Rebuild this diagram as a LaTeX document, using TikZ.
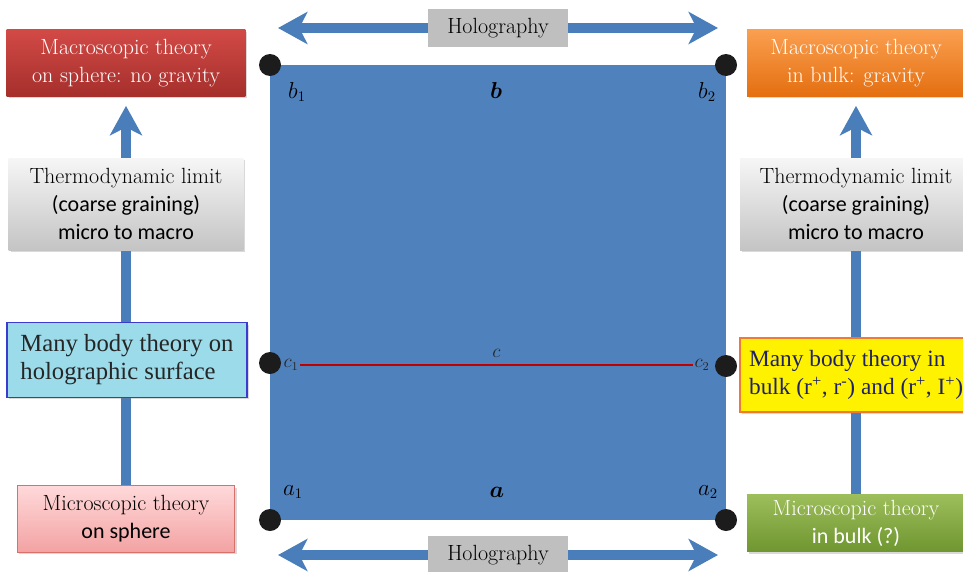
\documentclass[tikz,border=0pt]{standalone}
\usepackage{amsmath,amssymb}
\usepackage{fontspec}
\newfontfamily\calibrifont{Carlito}
\newfontfamily\timesfont{Liberation Serif}
\usepackage{tikz}
\usetikzlibrary{arrows.meta,positioning,shadows,backgrounds}
\definecolor{bulkBlue}{HTML}{4F81BD}
\definecolor{arrowBlue}{HTML}{4A7EBB}
\definecolor{dotBlack}{HTML}{1C1C1C}
\definecolor{redTop}{HTML}{D24A46}
\definecolor{redBot}{HTML}{A52F2C}
\definecolor{orangeTop}{HTML}{FA9F50}
\definecolor{orangeBot}{HTML}{E46F10}
\definecolor{grayTop}{HTML}{F6F6F6}
\definecolor{grayBot}{HTML}{C4C4C4}
\definecolor{cyanFill}{HTML}{9BDBEA}
\definecolor{cyanLine}{HTML}{3B3BCF}
\definecolor{yellowLine}{HTML}{F07A32}
\definecolor{navyText}{HTML}{1F2266}
\definecolor{pinkTop}{HTML}{FFD9DA}
\definecolor{pinkBot}{HTML}{F3A2A2}
\definecolor{pinkLine}{HTML}{D8706C}
\definecolor{greenTop}{HTML}{9DBE5B}
\definecolor{greenBot}{HTML}{6F9630}
\definecolor{holoGray}{HTML}{BFBFBF}
\definecolor{cRed}{HTML}{C00000}
\newcommand{\boxfont}{\fontsize{16.5}{21}\selectfont}

\begin{document}
\begin{tikzpicture}[x=0.75pt, y=-0.75pt,
    box/.style={rectangle, align=center, inner sep=2pt, font=\boxfont, drop shadow={opacity=0.3, shadow xshift=1.5pt, shadow yshift=-1.5pt}},
    macSbox/.style={box, top color=redTop, bottom color=redBot, text=white, minimum width=179pt, minimum height=50pt},
    macBbox/.style={box, top color=orangeTop, bottom color=orangeBot, text=white, minimum width=163.5pt, minimum height=50pt},
    thermbox/.style={box, top color=grayTop, bottom color=grayBot, text=black, minimum width=176pt, minimum height=69pt},
    surfbox/.style={box, fill=cyanFill, draw=cyanLine, line width=1.2pt, align=left, font=\timesfont\fontsize{18.5}{21}\selectfont, text=black!85, minimum width=178.5pt, minimum height=56pt, inner xsep=10pt},
    bulkbox/.style={box, fill=yellow, draw=yellowLine, line width=1.2pt, align=left, font=\timesfont\fontsize{17.5}{21}\selectfont, text=navyText, minimum height=55.5pt, inner xsep=7pt},
    micSbox/.style={box, top color=pinkTop, bottom color=pinkBot, draw=pinkLine, text=black, minimum width=163pt, minimum height=50pt},
    micBbox/.style={box, top color=greenTop, bottom color=greenBot, text=white, minimum width=163.5pt, minimum height=43pt},
    holobox/.style={rectangle, fill=holoGray, minimum width=105pt, minimum height=28.5pt, inner sep=0pt, font=\boxfont},
    dot/.style={circle, fill=dotBlack, minimum size=16.5pt, inner sep=0pt},
    corner/.style={font=\fontsize{16}{18}\selectfont, inner sep=0pt},
    clab/.style={font=\fontsize{13.5}{15}\selectfont, text=black!85, inner sep=1pt},
    flow/.style={draw=arrowBlue, line width=7.5pt, shorten >=7pt, -{Stealth[length=22pt, width=24pt, inset=6pt]}},
    holo/.style={draw=arrowBlue, line width=7.5pt, {Stealth[length=22pt, width=24pt, inset=6pt]}-{Stealth[length=22pt, width=24pt, inset=6pt]}},
    cline/.style={draw=cRed, line width=0.8pt}
]
\useasboundingbox (0,0) rectangle (963,571);

% Corners of the bulk
\node[dot] (b1) at (270,65) {};
\node[dot] (b2) at (726,65) {};
\node[dot] (c1) at (270,363) {};
\node[dot] (c2) at (726,366) {};
\node[dot] (a1) at (270,520) {};
\node[dot] (a2) at (726,520) {};

\node[corner] (b1lab) at (297,92) {$b_1$};
\node[corner] (blab) at (496,90) {$\boldsymbol{b}$};
\node[corner] (b2lab) at (707,92) {$b_2$};
\node[corner] (a1lab) at (293,492) {$a_1$};
\node[corner] (alab) at (497,492) {$\boldsymbol{a}$};
\node[corner] (a2lab) at (708,492) {$a_2$};
\node[clab] (c1lab) at (291,365) {$c_1$};
\node[clab] (c2lab) at (702,365) {$c_2$};

% Left column: sphere
\node[macSbox] (macS) at (126,63) {Macroscopic theory\\on sphere: no gravity};
\node[thermbox] (thermS) at (126,204) {Thermodynamic limit\\{\calibrifont (coarse graining)}\\{\calibrifont micro to macro}};
\node[surfbox] (surf) at (127,360) {Many body theory on\\holographic surface};
\node[micSbox] (micS) at (126,519) {Microscopic theory\\{\calibrifont on sphere}};

% Right column: bulk
\node[macBbox] (macB) at (856,63) {Macroscopic theory\\in bulk: gravity};
\node[thermbox, minimum width=174pt] (thermB) at (856,204) {Thermodynamic limit\\{\calibrifont (coarse graining)}\\{\calibrifont micro to macro}};
\node[bulkbox, anchor=west] (bulkMB) at (739,375) {Many body theory in\\bulk (r\textsuperscript{+}, r\textsuperscript{-}) and (r\textsuperscript{+}, I\textsuperscript{+})};
\node[micBbox] (micB) at (856,523) {Microscopic theory\\{\calibrifont in bulk (?)}};

% Holography arrows
\coordinate (holoTL) at (278,28);
\coordinate (holoTR) at (718,28);
\coordinate (holoBL) at (278,555);
\coordinate (holoBR) at (718,555);
\draw[holo] (holoTL) -- node[holobox] (holoT) {Holography} (holoTR);
\draw[holo] (holoBL) -- node[holobox] (holoB) {Holography} (holoBR);

% Connections
\begin{scope}[on background layer]
\fill[bulkBlue] (a1.center) rectangle (b2.center);
\draw[flow] (micS.north) -- (macS.south);
\draw[flow] (micB.north) -- (macB.south);
\end{scope}
\draw[cline] (c1lab.east) -- node[clab, above=4pt] (clab) {$c$} (c2lab.west);

\end{tikzpicture}
\end{document}
